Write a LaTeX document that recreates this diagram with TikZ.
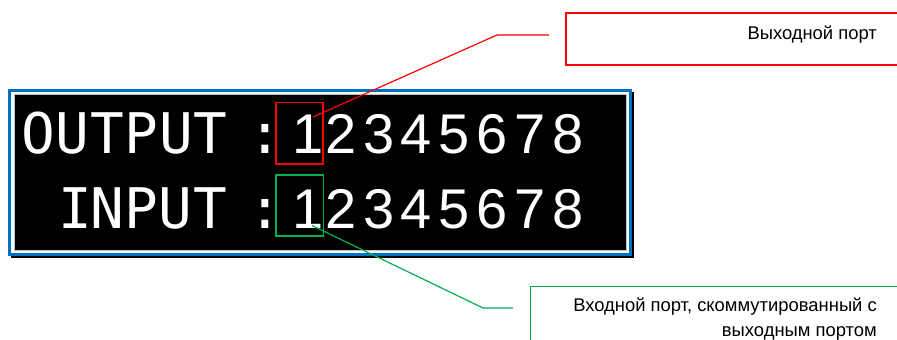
\documentclass[tikz,border=0pt]{standalone}
\usepackage{fontspec}
\setmainfont{Liberation Sans}
\newfontfamily\lcdmono{DejaVu Sans Mono}
\newfontfamily\lcdsans{Liberation Sans}
\definecolor{frameblue}{RGB}{0,112,192}
\definecolor{calloutgreen}{RGB}{0,176,80}
\definecolor{calloutred}{RGB}{255,0,0}
\begin{document}
\begin{tikzpicture}[x=1pt,y=-1pt,
  lcdchar/.style={text=white, inner sep=0pt, anchor=base, font=\lcdmono\fontsize{56}{60}\selectfont},
  lcddigit/.style={text=white, inner sep=0pt, anchor=base, font=\lcdsans\fontsize{56}{60}\selectfont},
  portbox/.style={draw, line width=1.7pt, inner sep=0pt, minimum width=47pt, minimum height=61.5pt},
  calloutbox/.style={draw, line width=1.8pt, inner sep=0pt, anchor=north west},
  callouttext/.style={inner sep=0pt, anchor=base east, font=\fontsize{18.4}{25}\selectfont},
  leader/.style={line width=1.2pt}]
\useasboundingbox (0,0) rectangle (897,340);
\clip (0,0) rectangle (897,340);
% display frame
\fill[black] (11,92) rectangle (634,258);
\draw[frameblue, line width=2.5pt, fill=white] (9.6,90.6) rectangle (630.4,254.4);
\draw[fill=black, draw=black!25, line width=1pt] (14,94) rectangle (626,250);
% line 1
\foreach \ch/\xx [count=\i] in {O/38,U/72.5,T/107,P/141.5,U/176,T/210.5,:/265.5}
  \node[lcdchar] (out\i) at (\xx,153) {\ch};
\node[lcddigit] (outd1) at (308,153) {1};
\foreach \d in {2,...,8}
  \node[lcddigit] (outd\d) at ({303+(\d-1)*37.8},153) {\d};
% line 2
\foreach \ch/\xx [count=\i] in {I/75,N/107.5,P/141.5,U/175.5,T/210,:/265.5}
  \node[lcdchar] (in\i) at (\xx,228) {\ch};
\node[lcddigit] (ind1) at (308,228) {1};
\foreach \d in {2,...,8}
  \node[lcddigit] (ind\d) at ({303+(\d-1)*37.8},228) {\d};
% port highlight boxes
\node[portbox, draw=calloutred] (outport) at (299.5,133.25) {};
\node[portbox, draw=calloutgreen, minimum width=47.5pt, minimum height=61pt] (inport) at (299.75,205.5) {};
% callout boxes
\node[calloutbox, draw=calloutred, minimum width=360pt, minimum height=52.3pt] (outlabel) at (565.3,12) {};
\node[callouttext] (outtext) at (877,39.3) {Выходной порт};
\node[calloutbox, draw=calloutgreen, minimum width=380pt, minimum height=80pt] (inlabel) at (529.5,285.5) {};
\node[callouttext] (intext1) at (877,311.7) {Входной порт, скоммутированный с};
\node[callouttext] (intext2) at (877,336.7) {выходным портом};
% leaders
\coordinate (outtip) at (313,117);
\coordinate (outbend) at (497,35);
\coordinate (outend) at (549,35);
\draw[leader, calloutred] (outtip) -- (outbend) -- (outend);
\coordinate (intip) at (312,225.5);
\coordinate (inbend) at (483,308);
\coordinate (inend) at (513,308);
\draw[leader, calloutgreen] (intip) -- (inbend) -- (inend);
\end{tikzpicture}
\end{document}
